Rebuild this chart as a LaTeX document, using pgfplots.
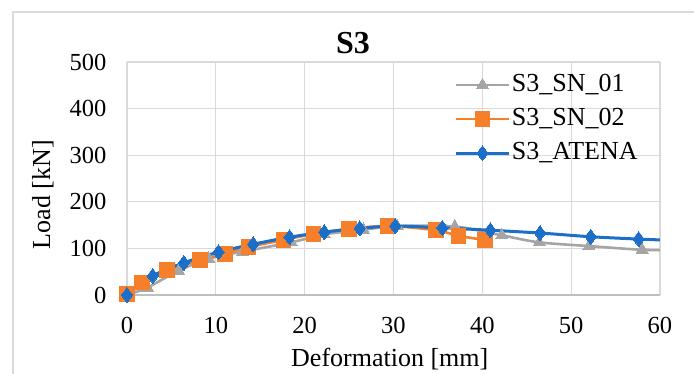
\documentclass[border=0pt]{standalone}
\usepackage{pgfplots}
\pgfplotsset{compat=1.18}
\usepackage{fontspec}
\setmainfont{Liberation Serif}
\definecolor{sgray}{HTML}{A5A5A5}
\definecolor{sorange}{HTML}{F57F2A}
\definecolor{sblue}{HTML}{1C6FC8}
\definecolor{gridc}{HTML}{D9D9D9}
\definecolor{axc}{HTML}{BFBFBF}
\begin{document}
\begin{tikzpicture}[x=1pt,y=1pt]
\begin{axis}[
  scale only axis, width=533pt, height=233pt,
  xmin=0, xmax=60, ymin=0, ymax=500,
  xtick={0,10,...,60}, ytick={0,100,...,500},
  grid=major, major grid style={gridc, line width=1.3pt},
  axis line style={draw=none},
  major tick length=0pt,
  extra y ticks={0}, extra y tick labels={},
  extra y tick style={major grid style={axc, line width=1.5pt}},
  /pgf/number format/assume math mode=true,
  tick label style={font=\fontsize{24.5}{28}\selectfont},
  yticklabel style={xshift=-17pt},
  xticklabel style={yshift=-19pt},
  label style={font=\fontsize{26}{30}\selectfont},
  xlabel={Deformation [mm]},
  xlabel style={at={(axis description cs:0.493,-0.309)}, anchor=base},
  ylabel={Load [kN]},
  ylabel style={at={(axis description cs:-0.158,0.43)}, anchor=center},
  title={S3},
  title style={at={(axis description cs:0.424,1.057)}, anchor=center, font=\fontsize{32}{36}\selectfont\bfseries},
  legend style={at={(axis description cs:0.615,0.953)}, anchor=north west, draw=none, fill=none,
    font=\fontsize{26}{30}\selectfont, row sep=10pt, inner sep=0pt,
    nodes={inner ysep=0pt, inner xsep=2pt, text height=18pt, text depth=6pt}},
  legend cell align=left,
  legend image code/.code={\draw[mark repeat=2,mark phase=2] plot coordinates {(0pt,0pt) (26pt,0pt) (52pt,0pt)};},
  every axis plot/.append style={smooth, line width=2.6pt},
]
\addplot[sgray, mark=triangle*, mark size=7pt, mark options={line width=0pt}] coordinates {
(0,0) (2.3,16) (5.8,52) (9.2,78) (13,93) (18.5,113) (22.2,130) (26.6,140) (30.4,148) (36.9,147) (42.2,128) (46.4,113) (52,105) (58,97) (62,96)};
\addlegendentry{S3\_SN\_01}
\addplot[sorange, mark=square*, mark size=7.3pt, mark options={line width=0pt}] coordinates {
(0,2) (1.7,27) (4.5,53) (8.2,75) (11,88) (13.7,103) (17.6,118) (21,131) (25,142) (29.4,148) (34.8,139) (37.3,127) (40.3,118)};
\addlegendentry{S3\_SN\_02}
\addplot[sblue, line width=3pt, mark=diamond*, mark size=7.5pt, mark options={line width=0pt}] coordinates {
(0,0) (2.9,41) (6.4,69) (10.3,92) (14.2,109) (18.3,124) (22.2,135) (26.2,143) (30.2,148) (35.5,144) (40.9,139) (46.5,133) (52.2,125) (57.6,120) (63,116)};
\addlegendentry{S3\_ATENA}
\coordinate (O) at (rel axis cs:0,0);
\end{axis}
\path (O) ++(-127,-79) coordinate (BL);
\draw[gridc, line width=1.3pt] (BL) ++(13,-5) -- ++(0,367) -- ++(690,0);
\pgfresetboundingbox
\useasboundingbox (BL) rectangle ++(694,374);
\end{tikzpicture}
\end{document}
